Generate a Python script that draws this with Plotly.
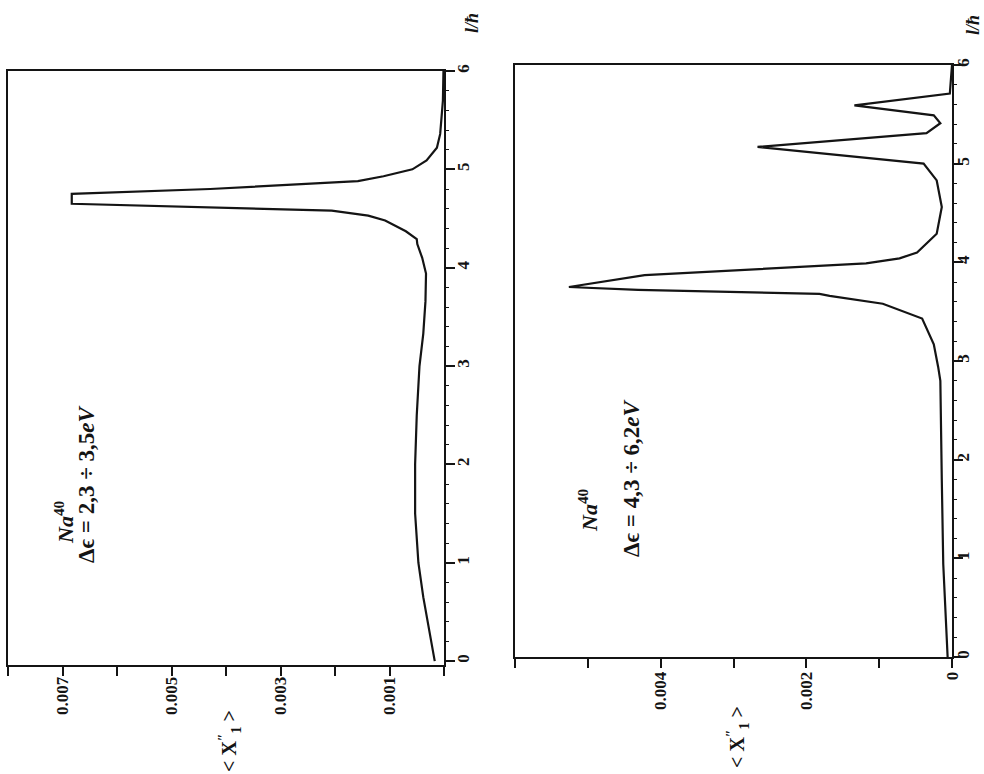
import plotly.graph_objects as go

# ---- data read from the (rotated) reference ----
# left panel: Na40, delta eps = 2.3 - 3.5 eV
l_left = [0.0, 0.28, 0.65, 1.0, 1.25, 1.5, 2.0, 2.5, 3.0, 3.33, 3.66, 3.94, 4.10,
          4.24, 4.29, 4.37, 4.48, 4.53, 4.58, 4.61, 4.65, 4.75, 4.80, 4.88, 4.93,
          5.0, 5.09, 5.22, 5.36, 5.70, 6.0]
x1_left = [0.00017, 0.00026, 0.00038, 0.00047, 0.00050, 0.00053, 0.00053, 0.00050,
           0.00045, 0.00038, 0.00034, 0.00033, 0.00040, 0.00049, 0.00050, 0.00070,
           0.00108, 0.00139, 0.00206, 0.00429, 0.00683, 0.00683, 0.00429, 0.00158,
           0.00111, 0.00058, 0.00032, 0.00013, 0.00007, 0.00002, 0.00001]

# right panel: Na40, delta eps = 4.3 - 6.2 eV
l_right = [0.0, 0.43, 0.94, 1.79, 2.80, 2.94, 3.17, 3.43, 3.58, 3.66, 3.68,
           3.72, 3.75, 3.87, 3.99, 4.04, 4.10, 4.29, 4.56, 4.83, 5.00, 5.17, 5.31,
           5.41, 5.49, 5.59, 5.71, 6.0]
x1_right = [0.00006, 0.00009, 0.00012, 0.00014, 0.00016, 0.00019, 0.00025,
            0.00041, 0.00095, 0.00168, 0.00182, 0.00431, 0.00526, 0.00422, 0.00118,
            0.00072, 0.00048, 0.00021, 0.00014, 0.00021, 0.00039, 0.00267, 0.00035,
            0.00016, 0.00025, 0.00134, 0.00003, 0.0]

l_ticks = [0, 1, 2, 3, 4, 5, 6]
x_ticks_left = [0.001, 0.003, 0.005, 0.007]
x_ticks_right = [0, 0.002, 0.004]

label_left = "\u0394\u03f5 = 2,3 \u00f7 3,5<i>eV</i>"
label_right = "\u0394\u03f5 = 4,3 \u00f7 6,2<i>eV</i>"
label_na = "<i>Na</i><sup>40</sup>"
x_title = "&lt; X<sup>\u2033</sup><sub>1</sub> &gt;"
l_title = "<i>l/\u0127</i>"

W, H = 984, 774
INK = "#141414"
FONT = "Liberation Serif"


def px(x):
    return x / W


def py(y):
    return 1 - y / H


fig = go.Figure()
fig.add_trace(go.Scatter(x=x1_left, y=l_left, mode="lines",
                         line=dict(color=INK, width=2.2),
                         xaxis="x", yaxis="y", showlegend=False))
fig.add_trace(go.Scatter(x=x1_right, y=l_right, mode="lines",
                         line=dict(color=INK, width=2.2),
                         xaxis="x2", yaxis="y2", showlegend=False))

tfont = dict(family=FONT, size=17, color=INK, weight="bold")
xcommon = dict(showgrid=False, zeroline=False, showline=True, linecolor=INK,
               linewidth=2, mirror=True, ticks="outside", ticklen=9,
               tickwidth=2, tickcolor=INK, tickangle=-90, automargin=False,
               tickfont=tfont,
               minor=dict(dtick=0.001, tick0=0, ticks="outside", ticklen=9,
                          tickwidth=2, tickcolor=INK, showgrid=False))
ycommon = dict(showgrid=False, zeroline=False, showline=True, linecolor=INK,
               linewidth=2, mirror=True, ticks="outside", ticklen=9,
               tickwidth=2, tickcolor=INK, tickangle=-90, side="right",
               automargin=False, tickvals=l_ticks,
               ticktext=[str(v) for v in l_ticks], tickfont=tfont,
               minor=dict(dtick=0.2, tick0=0, ticks="outside", ticklen=3,
                          tickwidth=1, tickcolor=INK, showgrid=False))

fig.update_layout(
    width=W, height=H, autosize=False,
    margin=dict(l=0, r=0, t=0, b=0, pad=0),
    paper_bgcolor="white", plot_bgcolor="white",
    xaxis=dict(domain=[px(8), px(444)], range=[0.008, 0], anchor="y",
               tickvals=x_ticks_left, ticklabelstandoff=-6,
               ticktext=["%.3f" % v for v in x_ticks_left], **xcommon),
    yaxis=dict(domain=[py(665), py(71)], range=[-0.04, 6], anchor="x",
               ticklabelstandoff=-6, **ycommon),
    xaxis2=dict(domain=[px(515), px(952)], range=[0.006, 0], anchor="y2",
                tickvals=x_ticks_right, ticklabelstandoff=-3,
                ticktext=["0", "0.002", "0.004"], **xcommon),
    yaxis2=dict(domain=[py(657), py(65)], range=[0, 6], anchor="x2",
                ticklabelstandoff=-14, **ycommon),
)

ann = [
    (64, 522, label_na, 22),
    (86, 484, label_left, 23),
    (588, 510, label_na, 22),
    (631, 478, label_right, 23),
    (230, 741, x_title, 20),
    (738, 737, x_title, 20),
    (472, 23, l_title, 18),
    (973, 25, l_title, 18),
]
for (ax, ay, txt, sz) in ann:
    fig.add_annotation(x=px(ax), y=py(ay), xref="paper", yref="paper",
                       text=txt, showarrow=False, textangle=-90,
                       xanchor="center", yanchor="middle",
                       font=dict(family=FONT, size=sz, color=INK,
                                 weight="bold"))

fig.write_html("out.html", config={"displayModeBar": False},
               post_script="document.body.style.margin='0';"
                           "document.body.style.overflow='hidden';")
